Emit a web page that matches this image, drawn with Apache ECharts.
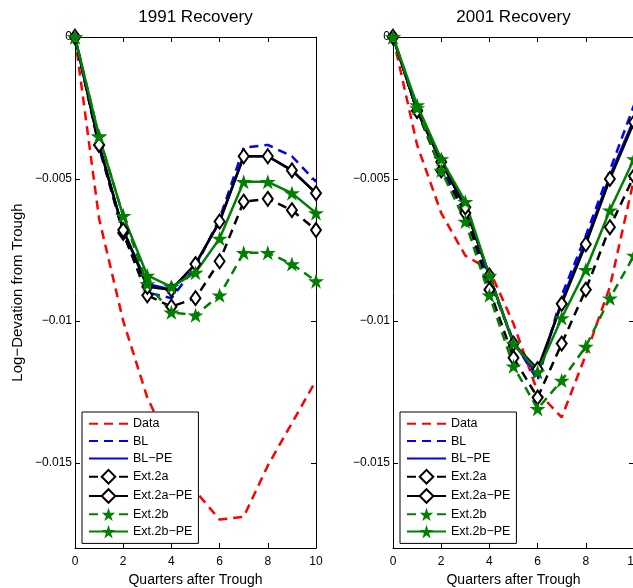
<!DOCTYPE html>
<html>
<head>
<meta charset="utf-8">
<title>1991 and 2001 Recovery</title>
<script src="https://cdn.jsdelivr.net/npm/echarts@6/dist/echarts.min.js"></script>
<style>
  html, body { margin: 0; padding: 0; background: #fff; }
  #chart { width: 633px; height: 588px; }
</style>
</head>
<body>
<div id="chart"></div>
<script>
// quarters after trough and tick values
const quarters = [0, 1, 2, 3, 4, 5, 6, 7, 8, 9, 10];
const yTicks = [0, -0.005, -0.01, -0.015];
const panelTitles = ['1991 Recovery', '2001 Recovery'];
const seriesNames = ['Data', 'BL', 'BL−PE', 'Ext.2a', 'Ext.2a−PE', 'Ext.2b', 'Ext.2b−PE'];

// 1991 recovery
const data1991     = [0, -0.0064, -0.0100, -0.0127, -0.0145, -0.0160, -0.0170, -0.0169, -0.0151, -0.0136, -0.0121];
const bl1991       = [0, -0.0039, -0.0069, -0.0090, -0.0092, -0.0081, -0.0064, -0.0039, -0.0038, -0.0042, -0.0051];
const blPe1991     = [0, -0.0038, -0.0068, -0.0087, -0.0089, -0.0080, -0.0065, -0.0042, -0.0042, -0.0047, -0.0055];
const ext2a1991    = [0, -0.0038, -0.0069, -0.0091, -0.0095, -0.0092, -0.0079, -0.0058, -0.0057, -0.0061, -0.0068];
const ext2aPe1991  = [0, -0.0038, -0.0068, -0.0088, -0.0089, -0.0080, -0.0065, -0.0042, -0.0042, -0.0047, -0.0055];
const ext2b1991    = [0, -0.0035, -0.0063, -0.0087, -0.0097, -0.0098, -0.0091, -0.0076, -0.0076, -0.0080, -0.0086];
const ext2bPe1991  = [0, -0.0035, -0.0063, -0.0084, -0.0088, -0.0083, -0.0071, -0.0051, -0.0051, -0.0055, -0.0062];

// 2001 recovery
const data2001     = [0, -0.0038, -0.0062, -0.0077, -0.0082, -0.0101, -0.0125, -0.0134, -0.0112, -0.0088, -0.0050];
const bl2001       = [0, -0.0026, -0.0045, -0.0062, -0.0086, -0.0107, -0.0121, -0.0091, -0.0070, -0.0047, -0.0024];
const blPe2001     = [0, -0.0026, -0.0044, -0.0060, -0.0084, -0.0108, -0.0119, -0.0093, -0.0072, -0.0049, -0.0029];
const ext2a2001    = [0, -0.0026, -0.0047, -0.0062, -0.0089, -0.0113, -0.0127, -0.0108, -0.0089, -0.0067, -0.0049];
const ext2aPe2001  = [0, -0.0026, -0.0044, -0.0060, -0.0084, -0.0108, -0.0117, -0.0094, -0.0073, -0.0050, -0.0030];
const ext2b2001    = [0, -0.0025, -0.0047, -0.0065, -0.0091, -0.0116, -0.0131, -0.0121, -0.0109, -0.0092, -0.0077];
const ext2bPe2001  = [0, -0.0024, -0.0043, -0.0058, -0.0084, -0.0108, -0.0118, -0.0099, -0.0082, -0.0061, -0.0043];

const panelValues = [
    [data1991, bl1991, blPe1991, ext2a1991, ext2aPe1991, ext2b1991, ext2bPe1991],
    [data2001, bl2001, blPe2001, ext2a2001, ext2aPe2001, ext2b2001, ext2bPe2001]
];

const FONT = '"Liberation Sans", Arial, Helvetica, sans-serif';
const STAR = 'path://M0,-10L2.245,-3.09L9.511,-3.09L3.633,1.18L5.878,8.09L0,3.82L-5.878,8.09L-3.633,1.18L-9.511,-3.09L-2.245,-3.09Z';
const DASH = [9, 6];

const styles = {
    'Data':      { color: '#ff0000', dash: true,  mark: 'none' },
    'BL':        { color: '#0000ff', dash: true,  mark: 'none' },
    'BL−PE':     { color: '#0000ff', dash: false, mark: 'none' },
    'Ext.2a':    { color: '#000000', dash: true,  mark: 'diamond' },
    'Ext.2a−PE': { color: '#000000', dash: false, mark: 'diamond' },
    'Ext.2b':    { color: '#008000', dash: true,  mark: 'star' },
    'Ext.2b−PE': { color: '#008000', dash: false, mark: 'star' }
};

const grids = [
    { left: 75, top: 37, width: 241, height: 511, outerBoundsMode: 'none' },
    { left: 393, top: 37, width: 241, height: 511, outerBoundsMode: 'none' }
];

function fmtY(v) {
    return v === 0 ? '0' : '−' + String(Math.abs(v));
}

function makeSeries(name, values, p) {
    const st = styles[name];
    const s = {
        name: name,
        type: 'line',
        xAxisIndex: p * 2,
        yAxisIndex: p * 2,
        data: quarters.map((q, i) => [q, values[i]]),
        lineStyle: { color: st.color, width: 2.5, type: st.dash ? DASH : 'solid' },
        silent: true,
        emphasis: { disabled: true }
    };
    if (st.mark === 'diamond') {
        s.symbol = 'diamond';
        s.symbolSize = [10, 14];
        s.itemStyle = { color: '#ffffff', borderColor: '#000000', borderWidth: 2 };
    } else if (st.mark === 'star') {
        s.symbol = STAR;
        s.symbolSize = [16, 15];
        s.itemStyle = { color: st.color };
    } else {
        s.symbol = 'none';
        s.itemStyle = { color: st.color };
    }
    return s;
}

const xAxes = [];
const yAxes = [];
grids.forEach((g, p) => {
    const line = { onZero: false, lineStyle: { color: '#000', width: 1 } };
    const tick = { inside: true, length: 5, lineStyle: { color: '#000' } };
    xAxes.push({
        type: 'value', gridIndex: p, position: 'bottom', min: 0, max: 10, interval: 2,
        name: 'Quarters after Trough', nameLocation: 'middle', nameGap: 25,
        nameTextStyle: { fontSize: 14, color: '#000', fontFamily: FONT },
        axisLine: line, axisTick: tick,
        axisLabel: { fontSize: 12, color: '#000', margin: 8, fontFamily: FONT },
        splitLine: { show: false }
    });
    xAxes.push({
        type: 'value', gridIndex: p, position: 'top', min: 0, max: 10, interval: 2,
        axisLine: line, axisTick: tick, axisLabel: { show: false }, splitLine: { show: false }
    });
    yAxes.push({
        type: 'value', gridIndex: p, position: 'left', min: -0.018, max: 0,
        name: p === 0 ? 'Log−Devation from Trough' : '', nameLocation: 'middle', nameGap: 50,
        nameTextStyle: { fontSize: 15, color: '#000', fontFamily: FONT },
        axisLine: line,
        axisTick: { inside: true, length: 5, lineStyle: { color: '#000' }, customValues: yTicks },
        axisLabel: { customValues: yTicks, formatter: fmtY, fontSize: 12, color: '#000', margin: 3, fontFamily: FONT },
        splitLine: { show: false }
    });
    yAxes.push({
        type: 'value', gridIndex: p, position: 'right', min: -0.018, max: 0,
        axisLine: line,
        axisTick: { inside: true, length: 5, lineStyle: { color: '#000' }, customValues: yTicks },
        axisLabel: { show: false }, splitLine: { show: false }
    });
});

const series = [];
panelValues.forEach((vals, p) => {
    seriesNames.forEach((name, i) => series.push(makeSeries(name, vals[i], p)));
});

// legend entries: plain lines carry no marker
const legendData = seriesNames.map(name =>
    styles[name].mark === 'none' ? { name: name, itemStyle: { opacity: 0 } } : { name: name }
);

const chart = echarts.init(document.getElementById('chart'), null, { renderer: 'canvas' });
chart.setOption({
    backgroundColor: '#ffffff',
    animation: false,
    textStyle: { fontFamily: FONT },
    title: panelTitles.map((t, p) => ({
        text: t,
        left: grids[p].left + grids[p].width / 2,
        top: 9,
        padding: 0,
        textAlign: 'center',
        textStyle: { fontSize: 17, fontWeight: 'normal', color: '#000', fontFamily: FONT }
    })),
    grid: grids,
    xAxis: xAxes,
    yAxis: yAxes,
    legend: grids.map((g, p) => ({
        left: g.left + 7,
        top: 412,
        orient: 'vertical',
        data: legendData,
        selectedMode: false,
        itemWidth: 39,
        itemHeight: 17,
        itemGap: 3.7,
        padding: [5, 6, 5, 6],
        borderColor: '#000',
        borderWidth: 1,
        backgroundColor: '#ffffff',
        textStyle: { fontSize: 12.5, color: '#000', fontFamily: FONT }
    })),
    series: series
});
window.addEventListener('resize', () => chart.resize());
</script>
</body>
</html>
